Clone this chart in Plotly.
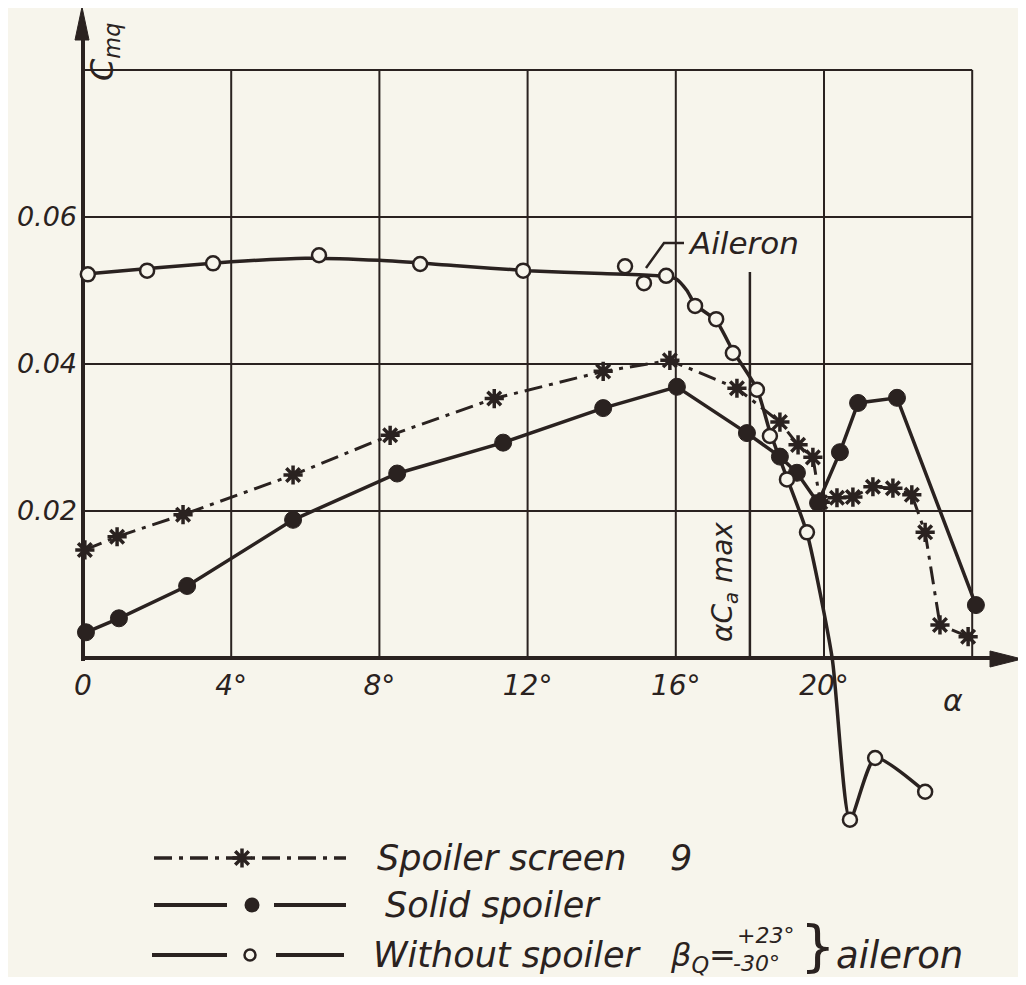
import plotly.graph_objects as go

# ---------------- data ----------------
# Spoiler screen 9 (asterisks, dash-dot)
alpha_screen = [0.05, 0.92, 2.7, 5.67, 8.29, 11.1, 14.04, 15.84, 17.65, 18.81, 19.3, 19.7,
                19.9, 20.35, 20.78, 21.32, 21.86, 22.37, 22.73, 23.13, 23.89]
cm_screen = [0.0147, 0.0165, 0.0195, 0.0249, 0.0303, 0.0353, 0.0390, 0.0405, 0.0367, 0.0321,
             0.0290, 0.0273, 0.0212, 0.0218, 0.0219, 0.0233, 0.0231, 0.0222, 0.0171, 0.0045, 0.0029]

# Solid spoiler (filled circles)
alpha_solid = [0.08, 0.97, 2.81, 5.67, 8.48, 11.34, 14.04, 16.03, 17.92, 18.81, 19.27,
               19.84, 20.43, 20.92, 21.97, 24.1]
cm_solid = [0.0035, 0.0054, 0.0098, 0.0188, 0.0251, 0.0293, 0.0340, 0.0369, 0.0306, 0.0274,
            0.0252, 0.0211, 0.0280, 0.0347, 0.0354, 0.0072]

# Without spoiler (open circles) - measured points
alpha_none = [0.13, 1.73, 3.51, 6.37, 9.10, 11.88, 14.63, 15.14, 15.74, 16.52, 17.09, 17.54,
              18.19, 18.54, 19.0, 19.54, 20.7, 21.38, 22.73]
cm_none = [0.0522, 0.0527, 0.0537, 0.0548, 0.0536, 0.0527, 0.0533, 0.0510, 0.0520, 0.0479,
           0.0461, 0.0415, 0.0365, 0.0302, 0.0243, 0.0171, -0.0220, -0.0136, -0.0182]
# Without spoiler - faired curve as drawn
alpha_none_fair = [0.0, 2.0, 4.0, 6.0, 8.0, 10.0, 12.0, 14.0, 15.5, 16.0, 16.3, 16.52, 17.09,
                   17.54, 18.19, 18.54, 19.0, 19.54, 20.22, 20.7, 21.38, 22.73]
cm_none_fair = [0.0522, 0.0531, 0.0539, 0.0544, 0.0541, 0.0534, 0.0527, 0.0523, 0.0520, 0.0516,
                0.0500, 0.0481, 0.0459, 0.0418, 0.0366, 0.0308, 0.0245, 0.0170, 0.0, -0.0220,
                -0.0136, -0.0182]

x_tick_vals = [0, 4, 8, 12, 16, 20]
x_tick_text = ["0", "4°", "8°", "12°", "16°", "20°"]
y_tick_vals = [0.02, 0.04, 0.06]
y_tick_text = ["0.02", "0.04", "0.06"]
x_grid = [4, 8, 12, 16, 20, 24]
y_grid = [0.02, 0.04, 0.06, 0.08]
alpha_camax = 18.0

legend_names = ["Spoiler screen", "Solid spoiler", "Without spoiler"]

# ---------------- layout helpers (pixel calibration, reference pixels) ----------------
PAGE_W, PAGE_H = 1026, 985
OFF = 8                      # browser body margin
W, H = PAGE_W - 2 * OFF, PAGE_H - 2 * OFF
X0, KX = 83, 37.05
Y0, KY = 658, 7350.0
INK = "#2a2220"
BG = "#f7f5ec"
FONT = "DejaVu Sans"


def dx(px):
    return (px - X0) / KX


def dy(py):
    return (Y0 - py) / KY


fig = go.Figure()

shapes = []
# grid
for g in x_grid:
    shapes.append(dict(type="line", x0=g, x1=g, y0=0, y1=0.08, xref="x", yref="y",
                       line=dict(color=INK, width=2), layer="below"))
for g in y_grid:
    shapes.append(dict(type="line", x0=0, x1=24, y0=g, y1=g, xref="x", yref="y",
                       line=dict(color=INK, width=2), layer="below"))
# axes
shapes.append(dict(type="line", x0=0, x1=dx(995), y0=0, y1=0, xref="x", yref="y",
                   line=dict(color=INK, width=4), layer="below"))
shapes.append(dict(type="line", x0=0, x1=0, y0=dy(661), y1=dy(35), xref="x", yref="y",
                   line=dict(color=INK, width=4), layer="below"))
# arrowheads
shapes.append(dict(type="path", xref="x", yref="y", layer="below",
                   path=f"M {dx(990)} {dy(651)} L {dx(1022)} {dy(659)} L {dx(990)} {dy(667)} Z",
                   fillcolor=INK, line=dict(color=INK, width=1)))
shapes.append(dict(type="path", xref="x", yref="y", layer="below",
                   path=f"M {dx(75)} {dy(40)} L {dx(82)} {dy(7)} L {dx(89)} {dy(40)} Z",
                   fillcolor=INK, line=dict(color=INK, width=1)))
# alpha ca max line
shapes.append(dict(type="line", x0=alpha_camax, x1=alpha_camax, y0=0, y1=dy(272),
                   xref="x", yref="y", line=dict(color=INK, width=2.5), layer="below"))
# aileron leader
shapes.append(dict(type="path", xref="x", yref="y",
                   path=f"M {dx(684)} {dy(243)} L {dx(664)} {dy(243)} L {dx(646)} {dy(268)}",
                   line=dict(color=INK, width=2.5)))

# ---------------- curves ----------------
fig.add_trace(go.Scatter(x=alpha_screen, y=cm_screen, mode="lines",
                         line=dict(color=INK, width=3, dash="18px,7px,4px,7px"),
                         showlegend=False, hoverinfo="skip"))
fig.add_trace(go.Scatter(x=alpha_solid, y=cm_solid, mode="lines",
                         line=dict(color=INK, width=3.5), showlegend=False, hoverinfo="skip"))
fig.add_trace(go.Scatter(x=alpha_none_fair, y=cm_none_fair, mode="lines",
                         line=dict(color=INK, width=3.5, shape="spline", smoothing=0.6),
                         showlegend=False, hoverinfo="skip"))
# markers
fig.add_trace(go.Scatter(x=alpha_screen, y=cm_screen, mode="markers", name=legend_names[0],
                         marker=dict(symbol="asterisk-open", size=16, color=INK,
                                     line=dict(color=INK, width=3.5)),
                         showlegend=False))
fig.add_trace(go.Scatter(x=alpha_solid, y=cm_solid, mode="markers", name=legend_names[1],
                         marker=dict(symbol="circle", size=17, color=INK,
                                     line=dict(color=INK, width=1)),
                         showlegend=False))
fig.add_trace(go.Scatter(x=alpha_none, y=cm_none, mode="markers", name=legend_names[2],
                         marker=dict(symbol="circle", size=14, color=BG,
                                     line=dict(color=INK, width=2.5)),
                         showlegend=False))

# ---------------- hand-drawn legend ----------------
rows_y = [858, 905, 955]
shapes.append(dict(type="line", xref="x", yref="y", x0=dx(154), x1=dx(346), y0=dy(rows_y[0]),
                   y1=dy(rows_y[0]), line=dict(color=INK, width=3.5, dash="18px,7px,4px,7px")))
for (a, b) in [(154, 227), (274, 346)]:
    shapes.append(dict(type="line", xref="x", yref="y", x0=dx(a), x1=dx(b), y0=dy(rows_y[1]),
                       y1=dy(rows_y[1]), line=dict(color=INK, width=4)))
for (a, b) in [(152, 227), (276, 344)]:
    shapes.append(dict(type="line", xref="x", yref="y", x0=dx(a), x1=dx(b), y0=dy(rows_y[2]),
                       y1=dy(rows_y[2]), line=dict(color=INK, width=4)))
fig.add_trace(go.Scatter(x=[dx(242)], y=[dy(rows_y[0])], mode="markers", hoverinfo="skip",
                         marker=dict(symbol="asterisk-open", size=16, color=INK,
                                     line=dict(color=INK, width=3.5)), showlegend=False))
fig.add_trace(go.Scatter(x=[dx(252)], y=[dy(rows_y[1])], mode="markers", hoverinfo="skip",
                         marker=dict(symbol="circle", size=15, color=INK), showlegend=False))
fig.add_trace(go.Scatter(x=[dx(250)], y=[dy(rows_y[2])], mode="markers", hoverinfo="skip",
                         marker=dict(symbol="circle", size=11, color=BG,
                                     line=dict(color=INK, width=2.5)), showlegend=False))

ann = []


def text(px, py, s, size=30, xanchor="left", angle=0, yanchor="middle", style="italic"):
    ann.append(dict(x=dx(px), y=dy(py), xref="x", yref="y", text=s, showarrow=False,
                    xanchor=xanchor, yanchor=yanchor, textangle=angle,
                    font=dict(family=FONT, size=size, color=INK, style=style)))


text(375, rows_y[0], legend_names[0], 35)
text(668, rows_y[0], "9", 35)
text(383, rows_y[1], legend_names[1], 35)
text(371, rows_y[2], legend_names[2], 35)
text(668, rows_y[2] + 2, "β<sub>Q</sub>=", 32)
text(735, 935, "+23°", 22)
text(731, 963, "-30°", 22)
text(818, 945, "}", 56, xanchor="center", style="normal")
text(834, rows_y[2], "aileron", 37)

# axis names and notes
text(104, 52, "C<sub>mq</sub>", 32, xanchor="center", angle=-90)
text(953, 700, "α", 30, xanchor="center")
text(686, 243, "Aileron", 31)
text(724, 582, "αC<sub>a</sub> max", 28, xanchor="center", angle=-90)

fig.update_layout(
    width=W, height=H,
    margin=dict(l=0, r=0, t=0, b=0),
    paper_bgcolor=BG, plot_bgcolor=BG,
    shapes=shapes, annotations=ann,
    font=dict(family=FONT, color=INK, style="italic"),
    xaxis=dict(range=[dx(OFF), dx(OFF + W)], showgrid=False, zeroline=False, showline=False,
               tickvals=x_tick_vals, ticktext=x_tick_text, ticks="",
               tickfont=dict(family=FONT, size=28, color=INK, style="italic"),
               anchor="free", position=(0 - dy(OFF + H)) / (dy(OFF) - dy(OFF + H)),
               ticklabelstandoff=8, automargin=False, fixedrange=True),
    yaxis=dict(range=[dy(OFF + H), dy(OFF)], showgrid=False, zeroline=False, showline=False,
               tickvals=y_tick_vals, ticktext=y_tick_text, ticks="",
               tickfont=dict(family=FONT, size=27, color=INK, style="italic"),
               anchor="free", position=(X0 - OFF) / W,
               ticklabelstandoff=6, automargin=False, fixedrange=True),
    showlegend=False,
)

fig.write_html("out.html")
